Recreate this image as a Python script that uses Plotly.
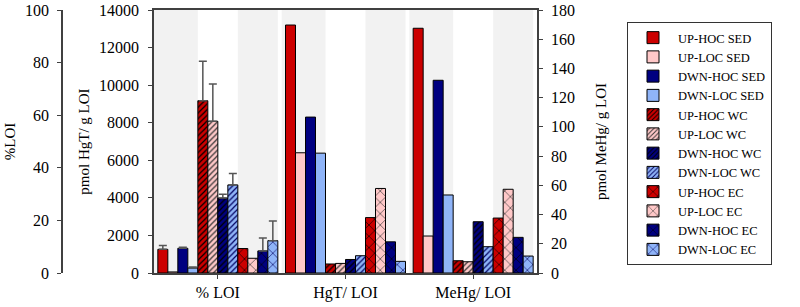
import plotly.graph_objects as go

categories = ["% LOI", "HgT/ LOI", "MeHg/ LOI"]
series = ["UP-HOC SED", "UP-LOC SED", "DWN-HOC SED", "DWN-LOC SED",
          "UP-HOC WC", "UP-LOC WC", "DWN-HOC WC", "DWN-LOC WC",
          "UP-HOC EC", "UP-LOC EC", "DWN-HOC EC", "DWN-LOC EC"]

# %LOI values (left-most axis, 0-100)
loi_pct = [9.0, 0.4, 9.4, 1.9, 65.5, 57.7, 28.5, 33.5, 9.3, 5.6, 8.4, 12.3]
loi_err = [1.5, 0.0, 0.4, 0.4, 15.0, 14.2, 1.4, 4.3, 0.0, 0.0, 4.9, 7.5]
# HgT per g LOI (pmol/g), second axis 0-14000
hgt_loi = [13200, 6400, 8300, 6380, 480, 510, 720, 920, 2950, 4500, 1660, 620]
# MeHg per g LOI (pmol/g), right axis 0-180
mehg_loi = [167.5, 25.3, 131.9, 53.4, 8.4, 7.7, 35.1, 18.0, 37.6, 57.3, 24.4, 11.6]

pct_ticks = [0, 20, 40, 60, 80, 100]
hgt_ticks = [0, 2000, 4000, 6000, 8000, 10000, 12000, 14000]
mehg_ticks = [0, 20, 40, 60, 80, 100, 120, 140, 160, 180]

base_colors = ["#cc0000", "#ffc8c8", "#000080", "#8fb4f8"]
line_colors = ["#000000", "#333333", "#000000", "#000060"]
shapes_by_type = ["", "/", "x"]

W, H = 800, 307
x_left, x_right = 154, 537
top, bottom = 10, 273
BARGAP = 0.06
FAM = "Liberation Serif, Times New Roman, serif"

fig = go.Figure()


def add_group(cat, values, yname, show, errs=None):
    for i, name in enumerate(series):
        kind = i // 4
        c = i % 4
        marker = dict(color=base_colors[c], line=dict(color="#000000", width=1))
        if shapes_by_type[kind]:
            marker["pattern"] = dict(
                shape=shapes_by_type[kind],
                fgcolor=line_colors[c],
                bgcolor=base_colors[c],
                size=4 if kind == 1 else 8,
                solidity=0.3 if kind == 1 else 0.15,
                fillmode="replace",
            )
        kw = {}
        if errs is not None and errs[i] > 0:
            kw["error_y"] = dict(type="data", array=[errs[i]], arrayminus=[0],
                                 symmetric=False, color="#555555",
                                 thickness=1.5, width=4)
        fig.add_trace(go.Bar(
            x=[cat], y=[values[i]], name=name, marker=marker,
            legendgroup=name, showlegend=show, yaxis=yname, **kw))


add_group(categories[0], loi_pct, "y3", True, loi_err)
add_group(categories[1], hgt_loi, "y", False)
add_group(categories[2], mehg_loi, "y2", False)

# background bands (SED and EC subgroups shaded)
shapes = []
sub = (1 - BARGAP) / 3
for ci in range(len(categories)):
    c0 = ci - 0.5
    c1 = ci + 0.5
    shapes.append(dict(type="rect", xref="x", yref="paper", x0=c0,
                       x1=c0 + BARGAP / 2 + sub, y0=0, y1=1,
                       fillcolor="#f2f2f2", line=dict(width=0), layer="below"))
    shapes.append(dict(type="rect", xref="x", yref="paper",
                       x0=c1 - BARGAP / 2 - sub, x1=c1 - BARGAP / 2, y0=0, y1=1,
                       fillcolor="#f2f2f2", line=dict(width=0), layer="below"))

axcol = "#404040"
tickf = dict(family=FAM, size=16, color="#000000")
titlef = dict(family=FAM, size=15, color="#000000")
plot_h = bottom - top

fig.update_layout(
    width=W, height=H,
    margin=dict(l=0, r=0, t=top, b=H - bottom),
    paper_bgcolor="white", plot_bgcolor="white",
    font=dict(family=FAM, size=16, color="#000000"),
    barmode="group", bargap=BARGAP, bargroupgap=0,
    shapes=shapes,
    xaxis=dict(domain=[x_left / W, x_right / W], type="category",
               categoryorder="array", categoryarray=categories,
               showline=True, linecolor=axcol, linewidth=1.5, mirror=True,
               ticks="outside", ticklen=4, tickcolor=axcol, showgrid=False,
               tickfont=tickf, range=[-0.5, 2.5], automargin=False),
    yaxis=dict(range=[0, 14000], tickvals=hgt_ticks,
               ticktext=[str(v) for v in hgt_ticks], showgrid=False, zeroline=False,
               showline=True, linecolor=axcol, linewidth=1.5, ticks="outside",
               ticklen=4, tickcolor=axcol, tickfont=tickf, ticklabelstandoff=6,
               automargin=False, ticklabeloverflow="allow",
               title=dict(text="pmol HgT/ g LOI", font=titlef, standoff=6)),
    yaxis2=dict(range=[0, 180], tickvals=mehg_ticks,
                ticktext=[str(v) for v in mehg_ticks], overlaying="y", side="right",
                anchor="x", showgrid=False, zeroline=False,
                showline=True, linecolor=axcol, linewidth=1.5, ticks="outside",
                ticklen=4, tickcolor=axcol, tickfont=tickf, ticklabelstandoff=5,
                automargin=False, ticklabeloverflow="allow",
                title=dict(text="pmol MeHg/ g LOI", font=titlef, standoff=22)),
    yaxis3=dict(range=[0, 100], tickvals=pct_ticks,
                ticktext=[str(v) for v in pct_ticks], overlaying="y", side="left",
                anchor="free", position=62 / W, showgrid=False, zeroline=False,
                showline=True, linecolor=axcol, linewidth=1.5, ticks="outside",
                ticklen=4, tickcolor=axcol, tickfont=tickf, ticklabelstandoff=5,
                automargin=False, ticklabeloverflow="allow",
                title=dict(text="%LOI", font=titlef, standoff=5)),
    legend=dict(x=627 / W, y=(bottom - 22) / plot_h, xanchor="left",
                yanchor="top", bordercolor="#333333", borderwidth=1,
                font=dict(family=FAM, size=12.5, color="#000000"),
                itemwidth=40, tracegroupgap=0, bgcolor="white"),
)

fig.write_html("out.html",
               config={"displayModeBar": False},
               post_script="document.body.style.margin='0';")
